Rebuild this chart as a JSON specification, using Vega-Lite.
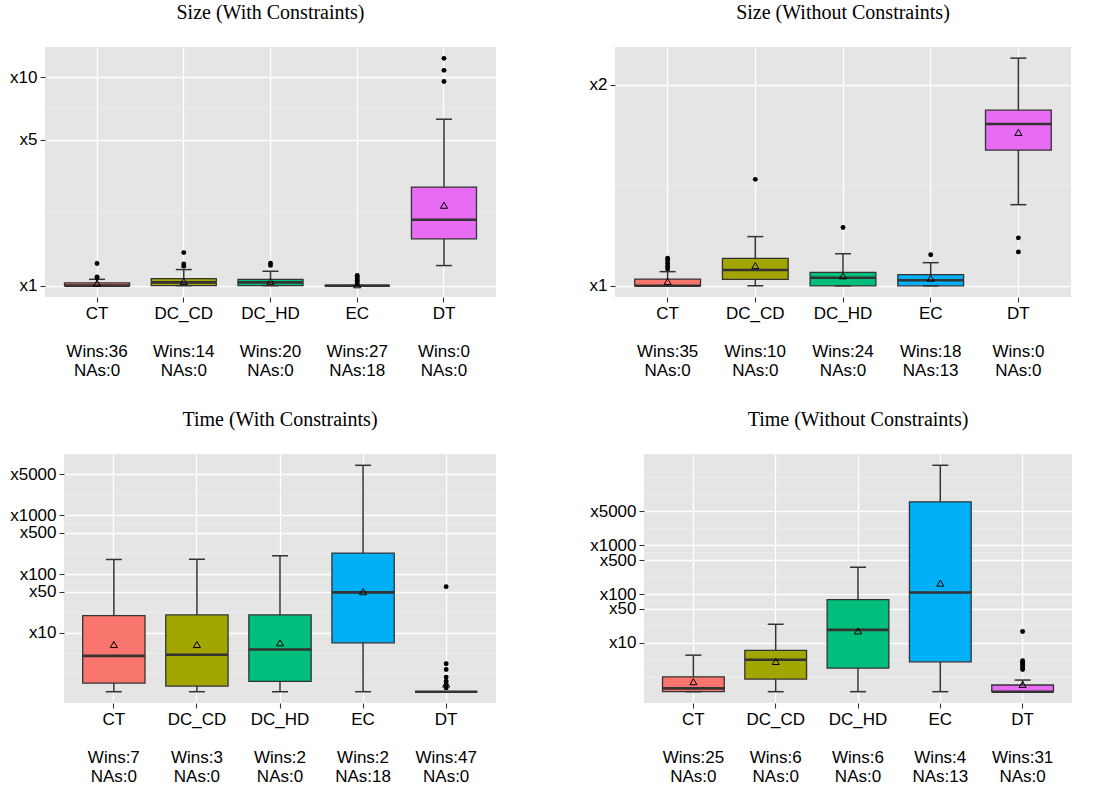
{
  "$schema": "https://vega.github.io/schema/vega-lite/v6.json",
  "padding": {"left": 8, "top": 3, "right": 5, "bottom": 5},
  "background": "white",
  "spacing": 32,
  "config": {
    "view": {"fill": "#E5E5E5", "stroke": null},
    "axis": {"domain": false, "labelFont": "Liberation Sans", "labelFontSize": 17, "labelColor": "black", "tickColor": "#333333", "tickSize": 5, "tickWidth": 1.1, "grid": true, "gridColor": "white", "gridWidth": 1.3, "labelPadding": 3, "title": null, "labelOverlap": false},
    "axisX": {"labelAngle": 0, "bandPosition": 0.5, "labelPadding": 3, "labelLineHeight": 19},
    "title": {"font": "Liberation Serif", "fontSize": 20, "fontWeight": "normal", "color": "black", "offset": 24, "baseline": "alphabetic"}
  },
  "vconcat": [
  {"spacing": 0, "hconcat": [
    {"width": 1, "height": 1, "view": {"fill": null, "stroke": null}, "data": {"values": []}, "mark": "point"},
    {"spacing": 92, "hconcat": [
    {
      "width": 451, "height": 250,
      "title": "Size (With Constraints)",
      "data": {"values": [
        {"cat": "CT", "label": "CT\n\u200b\nWins:36\nNAs:0", "lo": 1.0, "q1": 1.0, "med": 1.0, "q3": 1.03, "hi": 1.072, "mean": 1.028},
        {"cat": "DC_CD", "label": "DC_CD\n\u200b\nWins:14\nNAs:0", "lo": 1.0, "q1": 1.0, "med": 1.037, "q3": 1.08, "hi": 1.194, "mean": 1.048},
        {"cat": "DC_HD", "label": "DC_HD\n\u200b\nWins:20\nNAs:0", "lo": 1.0, "q1": 1.0, "med": 1.037, "q3": 1.072, "hi": 1.172, "mean": 1.048},
        {"cat": "EC", "label": "EC\n\u200b\nWins:27\nNAs:18", "lo": 1.0, "q1": 1.0, "med": 1.0, "q3": 1.0, "hi": 1.0, "mean": 1.01},
        {"cat": "DT", "label": "DT\n\u200b\nWins:0\nNAs:0", "lo": 1.248, "q1": 1.677, "med": 2.07, "q3": 2.97, "hi": 6.28, "mean": 2.43},
        {"cat": "CT", "label": "CT\n\u200b\nWins:36\nNAs:0", "out": 1.09},
        {"cat": "CT", "label": "CT\n\u200b\nWins:36\nNAs:0", "out": 1.1},
        {"cat": "CT", "label": "CT\n\u200b\nWins:36\nNAs:0", "out": 1.276},
        {"cat": "DC_CD", "label": "DC_CD\n\u200b\nWins:14\nNAs:0", "out": 1.24},
        {"cat": "DC_CD", "label": "DC_CD\n\u200b\nWins:14\nNAs:0", "out": 1.27},
        {"cat": "DC_CD", "label": "DC_CD\n\u200b\nWins:14\nNAs:0", "out": 1.44},
        {"cat": "DC_HD", "label": "DC_HD\n\u200b\nWins:20\nNAs:0", "out": 1.25},
        {"cat": "DC_HD", "label": "DC_HD\n\u200b\nWins:20\nNAs:0", "out": 1.28},
        {"cat": "EC", "label": "EC\n\u200b\nWins:27\nNAs:18", "out": 1.02},
        {"cat": "EC", "label": "EC\n\u200b\nWins:27\nNAs:18", "out": 1.04},
        {"cat": "EC", "label": "EC\n\u200b\nWins:27\nNAs:18", "out": 1.06},
        {"cat": "EC", "label": "EC\n\u200b\nWins:27\nNAs:18", "out": 1.08},
        {"cat": "EC", "label": "EC\n\u200b\nWins:27\nNAs:18", "out": 1.1},
        {"cat": "EC", "label": "EC\n\u200b\nWins:27\nNAs:18", "out": 1.12},
        {"cat": "DT", "label": "DT\n\u200b\nWins:0\nNAs:0", "out": 9.53},
        {"cat": "DT", "label": "DT\n\u200b\nWins:0\nNAs:0", "out": 10.77},
        {"cat": "DT", "label": "DT\n\u200b\nWins:0\nNAs:0", "out": 12.3}
      ]},
      "layer": [
        {"data": {"values": [{"g": 2.236}, {"g": 7.071}]}, "mark": {"type": "rule", "color": "#F2F2F2", "strokeWidth": 0.7}, "encoding": {"y": {"field": "g", "type": "quantitative", "scale": {"type": "log", "domain": [0.882, 13.94], "nice": false}, "axis": {"values": [1, 5, 10], "labelExpr": "'x' + datum.value"}}}},
        {
          "encoding": {"x": {"field": "label", "type": "nominal", "sort": null, "scale": {"type": "band", "paddingInner": 0.25, "paddingOuter": 0.225}, "axis": {"labelExpr": "split(datum.value, '\\n')"}}},
          "layer": [
            {"mark": {"type": "rule", "color": "#333333", "strokeWidth": 1.5}, "encoding": {"y": {"field": "lo", "type": "quantitative", "axis": {"values": [1, 5, 10], "labelExpr": "'x' + datum.value"}}, "y2": {"field": "hi"}}},
            {"mark": {"type": "bar", "stroke": "#333333", "strokeWidth": 1.3}, "encoding": {"y": {"field": "q1", "type": "quantitative", "axis": {"values": [1, 5, 10], "labelExpr": "'x' + datum.value"}}, "y2": {"field": "q3"}, "color": {"field": "cat", "type": "nominal", "scale": {"domain": ["CT", "DC_CD", "DC_HD", "EC", "DT"], "range": ["#F8766D", "#A3A500", "#00BF7D", "#00B0F6", "#E76BF3"]}, "legend": null}}},
            {"mark": {"type": "bar", "fillOpacity": 0, "stroke": "#333333", "strokeWidth": 2.6}, "encoding": {"y": {"field": "med", "type": "quantitative", "axis": {"values": [1, 5, 10], "labelExpr": "'x' + datum.value"}}, "y2": {"field": "med"}}},
            {"mark": {"type": "tick", "size": 16, "thickness": 1.5, "color": "#333333", "opacity": 1}, "encoding": {"y": {"field": "lo", "type": "quantitative", "axis": {"values": [1, 5, 10], "labelExpr": "'x' + datum.value"}}}},
            {"mark": {"type": "tick", "size": 16, "thickness": 1.5, "color": "#333333", "opacity": 1}, "encoding": {"y": {"field": "hi", "type": "quantitative", "axis": {"values": [1, 5, 10], "labelExpr": "'x' + datum.value"}}}},
            {"mark": {"type": "point", "shape": "triangle-up", "filled": false, "stroke": "black", "strokeWidth": 1, "size": 50, "opacity": 1}, "encoding": {"y": {"field": "mean", "type": "quantitative", "axis": {"values": [1, 5, 10], "labelExpr": "'x' + datum.value"}}}},
            {"mark": {"type": "circle", "size": 24, "color": "black", "opacity": 1}, "encoding": {"y": {"field": "out", "type": "quantitative", "axis": {"values": [1, 5, 10], "labelExpr": "'x' + datum.value"}}}}
          ]
        }
      ]
    },
    {
      "width": 456, "height": 250,
      "title": "Size (Without Constraints)",
      "data": {"values": [
        {"cat": "CT", "label": "CT\n\u200b\nWins:35\nNAs:0", "lo": 1.0, "q1": 1.0, "med": 1.0, "q3": 1.0235, "hi": 1.05, "mean": 1.015},
        {"cat": "DC_CD", "label": "DC_CD\n\u200b\nWins:10\nNAs:0", "lo": 1.0, "q1": 1.022, "med": 1.056, "q3": 1.099, "hi": 1.185, "mean": 1.072},
        {"cat": "DC_HD", "label": "DC_HD\n\u200b\nWins:24\nNAs:0", "lo": 1.0, "q1": 1.0, "med": 1.028, "q3": 1.047, "hi": 1.117, "mean": 1.035},
        {"cat": "EC", "label": "EC\n\u200b\nWins:18\nNAs:13", "lo": 1.0, "q1": 1.0, "med": 1.019, "q3": 1.039, "hi": 1.083, "mean": 1.027},
        {"cat": "DT", "label": "DT\n\u200b\nWins:0\nNAs:0", "lo": 1.323, "q1": 1.597, "med": 1.748, "q3": 1.833, "hi": 2.194, "mean": 1.698},
        {"cat": "CT", "label": "CT\n\u200b\nWins:35\nNAs:0", "out": 1.06},
        {"cat": "CT", "label": "CT\n\u200b\nWins:35\nNAs:0", "out": 1.07},
        {"cat": "CT", "label": "CT\n\u200b\nWins:35\nNAs:0", "out": 1.08},
        {"cat": "CT", "label": "CT\n\u200b\nWins:35\nNAs:0", "out": 1.09},
        {"cat": "CT", "label": "CT\n\u200b\nWins:35\nNAs:0", "out": 1.1},
        {"cat": "DC_CD", "label": "DC_CD\n\u200b\nWins:10\nNAs:0", "out": 1.444},
        {"cat": "DC_HD", "label": "DC_HD\n\u200b\nWins:24\nNAs:0", "out": 1.223},
        {"cat": "EC", "label": "EC\n\u200b\nWins:18\nNAs:13", "out": 1.113},
        {"cat": "DT", "label": "DT\n\u200b\nWins:0\nNAs:0", "out": 1.124},
        {"cat": "DT", "label": "DT\n\u200b\nWins:0\nNAs:0", "out": 1.18}
      ]},
      "layer": [
        {"data": {"values": [{"g": 1.414}]}, "mark": {"type": "rule", "color": "#F2F2F2", "strokeWidth": 0.7}, "encoding": {"y": {"field": "g", "type": "quantitative", "scale": {"type": "log", "domain": [0.962, 2.28], "nice": false}, "axis": {"values": [1, 2], "labelExpr": "'x' + datum.value"}}}},
        {
          "encoding": {"x": {"field": "label", "type": "nominal", "sort": null, "scale": {"type": "band", "paddingInner": 0.25, "paddingOuter": 0.225}, "axis": {"labelExpr": "split(datum.value, '\\n')"}}},
          "layer": [
            {"mark": {"type": "rule", "color": "#333333", "strokeWidth": 1.5}, "encoding": {"y": {"field": "lo", "type": "quantitative", "axis": {"values": [1, 2], "labelExpr": "'x' + datum.value"}}, "y2": {"field": "hi"}}},
            {"mark": {"type": "bar", "stroke": "#333333", "strokeWidth": 1.3}, "encoding": {"y": {"field": "q1", "type": "quantitative", "axis": {"values": [1, 2], "labelExpr": "'x' + datum.value"}}, "y2": {"field": "q3"}, "color": {"field": "cat", "type": "nominal", "scale": {"domain": ["CT", "DC_CD", "DC_HD", "EC", "DT"], "range": ["#F8766D", "#A3A500", "#00BF7D", "#00B0F6", "#E76BF3"]}, "legend": null}}},
            {"mark": {"type": "bar", "fillOpacity": 0, "stroke": "#333333", "strokeWidth": 2.6}, "encoding": {"y": {"field": "med", "type": "quantitative", "axis": {"values": [1, 2], "labelExpr": "'x' + datum.value"}}, "y2": {"field": "med"}}},
            {"mark": {"type": "tick", "size": 16, "thickness": 1.5, "color": "#333333", "opacity": 1}, "encoding": {"y": {"field": "lo", "type": "quantitative", "axis": {"values": [1, 2], "labelExpr": "'x' + datum.value"}}}},
            {"mark": {"type": "tick", "size": 16, "thickness": 1.5, "color": "#333333", "opacity": 1}, "encoding": {"y": {"field": "hi", "type": "quantitative", "axis": {"values": [1, 2], "labelExpr": "'x' + datum.value"}}}},
            {"mark": {"type": "point", "shape": "triangle-up", "filled": false, "stroke": "black", "strokeWidth": 1, "size": 50, "opacity": 1}, "encoding": {"y": {"field": "mean", "type": "quantitative", "axis": {"values": [1, 2], "labelExpr": "'x' + datum.value"}}}},
            {"mark": {"type": "circle", "size": 24, "color": "black", "opacity": 1}, "encoding": {"y": {"field": "out", "type": "quantitative", "axis": {"values": [1, 2], "labelExpr": "'x' + datum.value"}}}}
          ]
        }
      ]
    }
    ]}
  ]},
  {"spacing": 0, "hconcat": [
    {"width": 1, "height": 1, "view": {"fill": null, "stroke": null}, "data": {"values": []}, "mark": "point"},
    {"spacing": 92, "hconcat": [
    {
      "width": 432, "height": 249,
      "title": "Time (With Constraints)",
      "data": {"values": [
        {"cat": "CT", "label": "CT\n\u200b\nWins:7\nNAs:0", "lo": 1.0, "q1": 1.4, "med": 4.07, "q3": 19.6, "hi": 176.6, "mean": 6.34},
        {"cat": "DC_CD", "label": "DC_CD\n\u200b\nWins:3\nNAs:0", "lo": 1.0, "q1": 1.245, "med": 4.24, "q3": 20.2, "hi": 178, "mean": 6.34},
        {"cat": "DC_HD", "label": "DC_HD\n\u200b\nWins:2\nNAs:0", "lo": 1.0, "q1": 1.496, "med": 5.21, "q3": 20.2, "hi": 204, "mean": 6.77},
        {"cat": "EC", "label": "EC\n\u200b\nWins:2\nNAs:18", "lo": 1.0, "q1": 6.77, "med": 48.7, "q3": 227, "hi": 7030, "mean": 50.1},
        {"cat": "DT", "label": "DT\n\u200b\nWins:47\nNAs:0", "lo": 1.0, "q1": 1.0, "med": 1.0, "q3": 1.0, "hi": 1.0, "mean": 1.35},
        {"cat": "DT", "label": "DT\n\u200b\nWins:47\nNAs:0", "out": 1.16},
        {"cat": "DT", "label": "DT\n\u200b\nWins:47\nNAs:0", "out": 1.33},
        {"cat": "DT", "label": "DT\n\u200b\nWins:47\nNAs:0", "out": 1.51},
        {"cat": "DT", "label": "DT\n\u200b\nWins:47\nNAs:0", "out": 1.77},
        {"cat": "DT", "label": "DT\n\u200b\nWins:47\nNAs:0", "out": 2.39},
        {"cat": "DT", "label": "DT\n\u200b\nWins:47\nNAs:0", "out": 2.98},
        {"cat": "DT", "label": "DT\n\u200b\nWins:47\nNAs:0", "out": 61}
      ]},
      "layer": [
        {"data": {"values": [{"g": 2}, {"g": 4.472}, {"g": 22.36}, {"g": 70.71}, {"g": 223.6}, {"g": 707.1}, {"g": 2236}]}, "mark": {"type": "rule", "color": "#F2F2F2", "strokeWidth": 0.7}, "encoding": {"y": {"field": "g", "type": "quantitative", "scale": {"type": "log", "domain": [0.643, 10940], "nice": false}, "axis": {"values": [10, 50, 100, 500, 1000, 5000], "labelExpr": "'x' + datum.value"}}}},
        {
          "encoding": {"x": {"field": "label", "type": "nominal", "sort": null, "scale": {"type": "band", "paddingInner": 0.25, "paddingOuter": 0.225}, "axis": {"labelExpr": "split(datum.value, '\\n')"}}},
          "layer": [
            {"mark": {"type": "rule", "color": "#333333", "strokeWidth": 1.5}, "encoding": {"y": {"field": "lo", "type": "quantitative", "axis": {"values": [10, 50, 100, 500, 1000, 5000], "labelExpr": "'x' + datum.value"}}, "y2": {"field": "hi"}}},
            {"mark": {"type": "bar", "stroke": "#333333", "strokeWidth": 1.3}, "encoding": {"y": {"field": "q1", "type": "quantitative", "axis": {"values": [10, 50, 100, 500, 1000, 5000], "labelExpr": "'x' + datum.value"}}, "y2": {"field": "q3"}, "color": {"field": "cat", "type": "nominal", "scale": {"domain": ["CT", "DC_CD", "DC_HD", "EC", "DT"], "range": ["#F8766D", "#A3A500", "#00BF7D", "#00B0F6", "#E76BF3"]}, "legend": null}}},
            {"mark": {"type": "bar", "fillOpacity": 0, "stroke": "#333333", "strokeWidth": 2.6}, "encoding": {"y": {"field": "med", "type": "quantitative", "axis": {"values": [10, 50, 100, 500, 1000, 5000], "labelExpr": "'x' + datum.value"}}, "y2": {"field": "med"}}},
            {"mark": {"type": "tick", "size": 16, "thickness": 1.5, "color": "#333333", "opacity": 1}, "encoding": {"y": {"field": "lo", "type": "quantitative", "axis": {"values": [10, 50, 100, 500, 1000, 5000], "labelExpr": "'x' + datum.value"}}}},
            {"mark": {"type": "tick", "size": 16, "thickness": 1.5, "color": "#333333", "opacity": 1}, "encoding": {"y": {"field": "hi", "type": "quantitative", "axis": {"values": [10, 50, 100, 500, 1000, 5000], "labelExpr": "'x' + datum.value"}}}},
            {"mark": {"type": "point", "shape": "triangle-up", "filled": false, "stroke": "black", "strokeWidth": 1, "size": 50, "opacity": 1}, "encoding": {"y": {"field": "mean", "type": "quantitative", "axis": {"values": [10, 50, 100, 500, 1000, 5000], "labelExpr": "'x' + datum.value"}}}},
            {"mark": {"type": "circle", "size": 24, "color": "black", "opacity": 1}, "encoding": {"y": {"field": "out", "type": "quantitative", "axis": {"values": [10, 50, 100, 500, 1000, 5000], "labelExpr": "'x' + datum.value"}}}}
          ]
        }
      ]
    },
    {
      "width": 428, "height": 249,
      "title": "Time (Without Constraints)",
      "data": {"values": [
        {"cat": "CT", "label": "CT\n\u200b\nWins:25\nNAs:0", "lo": 1.0, "q1": 1.0, "med": 1.17, "q3": 2.02, "hi": 5.61, "mean": 1.6},
        {"cat": "DC_CD", "label": "DC_CD\n\u200b\nWins:6\nNAs:0", "lo": 1.0, "q1": 1.81, "med": 4.5, "q3": 7.0, "hi": 24.1, "mean": 4.17},
        {"cat": "DC_HD", "label": "DC_HD\n\u200b\nWins:6\nNAs:0", "lo": 1.0, "q1": 3.05, "med": 18.5, "q3": 76.9, "hi": 356, "mean": 17.6},
        {"cat": "EC", "label": "EC\n\u200b\nWins:4\nNAs:13", "lo": 1.0, "q1": 4.1, "med": 108, "q3": 7800, "hi": 43800, "mean": 168},
        {"cat": "DT", "label": "DT\n\u200b\nWins:31\nNAs:0", "lo": 1.0, "q1": 1.0, "med": 1.0, "q3": 1.37, "hi": 1.73, "mean": 1.41},
        {"cat": "DT", "label": "DT\n\u200b\nWins:31\nNAs:0", "out": 2.85},
        {"cat": "DT", "label": "DT\n\u200b\nWins:31\nNAs:0", "out": 3.1},
        {"cat": "DT", "label": "DT\n\u200b\nWins:31\nNAs:0", "out": 3.4},
        {"cat": "DT", "label": "DT\n\u200b\nWins:31\nNAs:0", "out": 3.7},
        {"cat": "DT", "label": "DT\n\u200b\nWins:31\nNAs:0", "out": 4.0},
        {"cat": "DT", "label": "DT\n\u200b\nWins:31\nNAs:0", "out": 4.3},
        {"cat": "DT", "label": "DT\n\u200b\nWins:31\nNAs:0", "out": 17.1}
      ]},
      "layer": [
        {"data": {"values": [{"g": 2}, {"g": 4.472}, {"g": 22.36}, {"g": 70.71}, {"g": 223.6}, {"g": 707.1}, {"g": 2236}, {"g": 11180}, {"g": 25000}]}, "mark": {"type": "rule", "color": "#F2F2F2", "strokeWidth": 0.7}, "encoding": {"y": {"field": "g", "type": "quantitative", "scale": {"type": "log", "domain": [0.586, 74600], "nice": false}, "axis": {"values": [10, 50, 100, 500, 1000, 5000], "labelExpr": "'x' + datum.value"}}}},
        {
          "encoding": {"x": {"field": "label", "type": "nominal", "sort": null, "scale": {"type": "band", "paddingInner": 0.25, "paddingOuter": 0.225}, "axis": {"labelExpr": "split(datum.value, '\\n')"}}},
          "layer": [
            {"mark": {"type": "rule", "color": "#333333", "strokeWidth": 1.5}, "encoding": {"y": {"field": "lo", "type": "quantitative", "axis": {"values": [10, 50, 100, 500, 1000, 5000], "labelExpr": "'x' + datum.value"}}, "y2": {"field": "hi"}}},
            {"mark": {"type": "bar", "stroke": "#333333", "strokeWidth": 1.3}, "encoding": {"y": {"field": "q1", "type": "quantitative", "axis": {"values": [10, 50, 100, 500, 1000, 5000], "labelExpr": "'x' + datum.value"}}, "y2": {"field": "q3"}, "color": {"field": "cat", "type": "nominal", "scale": {"domain": ["CT", "DC_CD", "DC_HD", "EC", "DT"], "range": ["#F8766D", "#A3A500", "#00BF7D", "#00B0F6", "#E76BF3"]}, "legend": null}}},
            {"mark": {"type": "bar", "fillOpacity": 0, "stroke": "#333333", "strokeWidth": 2.6}, "encoding": {"y": {"field": "med", "type": "quantitative", "axis": {"values": [10, 50, 100, 500, 1000, 5000], "labelExpr": "'x' + datum.value"}}, "y2": {"field": "med"}}},
            {"mark": {"type": "tick", "size": 16, "thickness": 1.5, "color": "#333333", "opacity": 1}, "encoding": {"y": {"field": "lo", "type": "quantitative", "axis": {"values": [10, 50, 100, 500, 1000, 5000], "labelExpr": "'x' + datum.value"}}}},
            {"mark": {"type": "tick", "size": 16, "thickness": 1.5, "color": "#333333", "opacity": 1}, "encoding": {"y": {"field": "hi", "type": "quantitative", "axis": {"values": [10, 50, 100, 500, 1000, 5000], "labelExpr": "'x' + datum.value"}}}},
            {"mark": {"type": "point", "shape": "triangle-up", "filled": false, "stroke": "black", "strokeWidth": 1, "size": 50, "opacity": 1}, "encoding": {"y": {"field": "mean", "type": "quantitative", "axis": {"values": [10, 50, 100, 500, 1000, 5000], "labelExpr": "'x' + datum.value"}}}},
            {"mark": {"type": "circle", "size": 24, "color": "black", "opacity": 1}, "encoding": {"y": {"field": "out", "type": "quantitative", "axis": {"values": [10, 50, 100, 500, 1000, 5000], "labelExpr": "'x' + datum.value"}}}}
          ]
        }
      ]
    }
    ]}
  ]}
  ]
}
